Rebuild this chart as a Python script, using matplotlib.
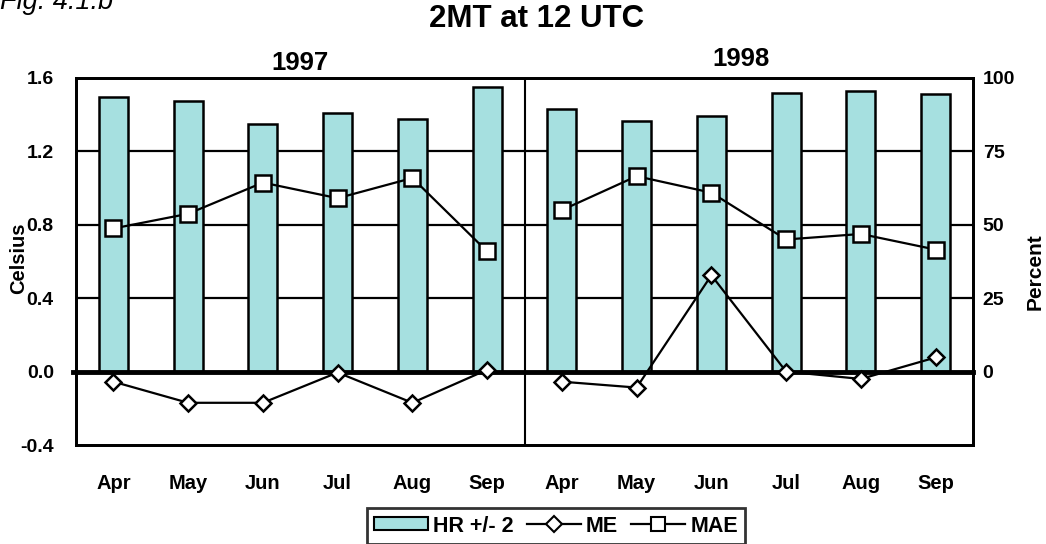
import matplotlib
matplotlib.use("Agg")
import matplotlib.pyplot as plt
from matplotlib.patches import Patch
from matplotlib.lines import Line2D
import numpy as np

months = ["Apr", "May", "Jun", "Jul", "Aug", "Sep", "Apr", "May", "Jun", "Jul", "Aug", "Sep"]
years = ["1997", "1998"]
hr_percent = [93.5, 92.0, 84.5, 88.0, 86.0, 97.0, 89.5, 85.5, 87.0, 95.0, 95.5, 94.5]
me_celsius = [-0.055, -0.17, -0.17, -0.005, -0.17, 0.01, -0.055, -0.087, 0.525, 0.0, -0.04, 0.077]
mae_celsius = [0.78, 0.86, 1.03, 0.945, 1.055, 0.655, 0.88, 1.065, 0.975, 0.72, 0.75, 0.665]
left_ticks = [-0.4, 0.0, 0.4, 0.8, 1.2, 1.6]
right_ticks = [0, 25, 50, 75, 100]

plt.rcParams['font.family'] = ['Liberation Sans', 'DejaVu Sans']
plt.rcParams['font.weight'] = 'bold'

fig = plt.figure(figsize=(10.46, 5.44), dpi=100)
ax = fig.add_axes([76/1046, 1-445/544, (973-76)/1046, (445-78)/544])
ax2 = ax.twinx()
ax.set_zorder(ax2.get_zorder() + 1)
ax.patch.set_visible(False)

x = np.arange(len(months))
bar_color = "#A6E0E0"

# bars on percent axis
ax2.bar(x, hr_percent, width=0.39, color=bar_color, edgecolor="black", linewidth=1.8, zorder=3)
for v in right_ticks[1:-1]:
    ax2.axhline(v, color="black", lw=1.6, zorder=1)
ax2.set_ylim(-25, 100)
ax2.set_yticks(right_ticks)
ax2.set_yticklabels([str(t) for t in right_ticks], fontsize=14, fontweight='bold')
ax2.tick_params(axis='y', length=0, pad=7)

# lines on Celsius axis
ax.axhline(0.0, color="black", lw=3.5, zorder=2, xmin=-0.003, clip_on=False)
ax.axvline(5.5, color="black", lw=1.5, zorder=2)
ax.plot(x[:6], me_celsius[:6], color="black", lw=1.6, marker="D", markersize=8,
        markerfacecolor="white", markeredgecolor="black", markeredgewidth=1.8, zorder=4)
ax.plot(x[6:], me_celsius[6:], color="black", lw=1.6, marker="D", markersize=8,
        markerfacecolor="white", markeredgecolor="black", markeredgewidth=1.8, zorder=4)
ax.plot(x[:6], mae_celsius[:6], color="black", lw=1.6, marker="s", markersize=11,
        markerfacecolor="white", markeredgecolor="black", markeredgewidth=1.8, zorder=5)
ax.plot(x[6:], mae_celsius[6:], color="black", lw=1.6, marker="s", markersize=11,
        markerfacecolor="white", markeredgecolor="black", markeredgewidth=1.8, zorder=5)

ax.set_xlim(-0.5, len(months) - 0.5)
ax.set_ylim(-0.4, 1.6)
ax.set_yticks(left_ticks)
ax.set_yticklabels([f"{t:.1f}" for t in left_ticks], fontsize=14, fontweight='bold')
ax.tick_params(axis='y', length=0, pad=16)
ax.set_xticks(x)
ax.set_xticklabels(months, fontsize=14.5, fontweight='bold')
ax.tick_params(axis='x', length=0, pad=21)

for a in (ax, ax2):
    for s in a.spines.values():
        s.set_linewidth(2.0)

fig.text(19/1046, 1-258/544, "Celsius", rotation=90, ha="center", va="center", fontsize=14.5, fontweight='bold')
fig.text(1035/1046, 1-272/544, "Percent", rotation=90, ha="center", va="center", fontsize=15, fontweight='bold')

# year labels
ax.text(2.5, 1.615, years[0], ha="center", va="bottom", fontsize=18.5, fontweight='bold')
ax.text(8.4, 1.64, years[1], ha="center", va="bottom", fontsize=18.5, fontweight='bold')

fig.text(537/1046, 1-19/544, "2MT at 12 UTC", ha="center", va="center", fontsize=22.5, fontweight='bold')
fig.text(0.0, 1-2/544, "Fig. 4.1.b", ha="left", va="center", fontsize=19.5, fontstyle='italic', fontweight='normal')

handles = [
    Patch(facecolor=bar_color, edgecolor="black", linewidth=1.5, label="HR +/- 2"),
    Line2D([0], [0], color="black", lw=1.6, marker="D", markersize=8, markerfacecolor="white",
           markeredgecolor="black", markeredgewidth=1.5, label="ME"),
    Line2D([0], [0], color="black", lw=1.6, marker="s", markersize=10, markerfacecolor="white",
           markeredgecolor="black", markeredgewidth=1.5, label="MAE"),
]
leg = fig.legend(handles=handles, loc="upper center", bbox_to_anchor=(556/1046, 1-508/544), ncol=3,
                 fontsize=15.5, frameon=True, fancybox=False, handlelength=2.5, handleheight=0.55,
                 handletextpad=0.25, columnspacing=0.6, borderpad=0.35, borderaxespad=0)
leg.get_frame().set_edgecolor("black")
leg.get_frame().set_linewidth(2.0)
for t in leg.get_texts():
    t.set_fontweight('bold')

fig.savefig("out.png", dpi=100)
